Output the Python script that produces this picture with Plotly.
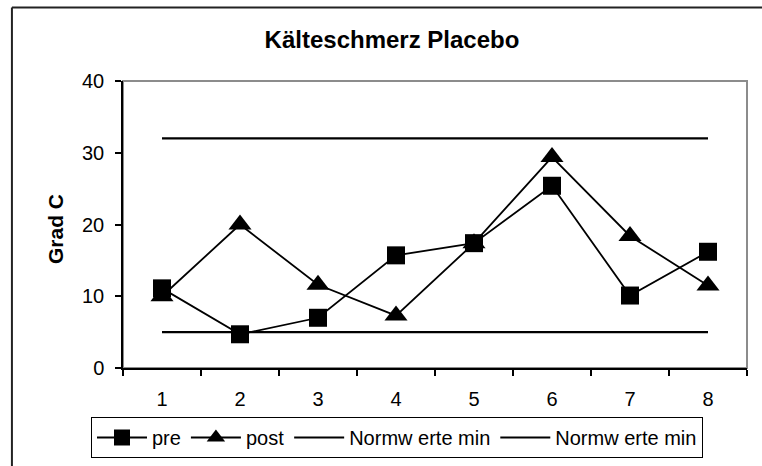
import plotly.graph_objects as go

categories = ["1", "2", "3", "4", "5", "6", "7", "8"]
pre = [11.1, 4.7, 7.0, 15.7, 17.4, 25.4, 10.1, 16.2]
post = [10.0, 20.0, 11.6, 7.3, 17.4, 29.4, 18.4, 11.5]
norm_upper = [32, 32, 32, 32, 32, 32, 32, 32]
norm_lower = [5, 5, 5, 5, 5, 5, 5, 5]
y_ticks = [0, 10, 20, 30, 40]

FONT = "Liberation Sans, Arial, sans-serif"

fig = go.Figure()
fig.add_trace(go.Scatter(x=categories, y=pre, name="pre", mode="lines+markers",
                         line=dict(color="black", width=1.8),
                         marker=dict(symbol="square", size=18, color="black")))
fig.add_trace(go.Scatter(x=categories, y=post, name="post", mode="lines+markers",
                         line=dict(color="black", width=1.8),
                         marker=dict(symbol="triangle-up", size=20, color="black")))
fig.add_trace(go.Scatter(x=categories, y=norm_upper, name="Normw erte min", mode="lines",
                         line=dict(color="black", width=2.2)))
fig.add_trace(go.Scatter(x=categories, y=norm_lower, name="Normw erte min", mode="lines",
                         line=dict(color="black", width=2.2)))

# plot-area border (grey) and outer chart frame
fig.add_shape(type="rect", xref="paper", yref="paper", x0=0, y0=0, x1=1, y1=1,
              line=dict(color="#8c8c8c", width=2), layer="below")
fig.add_shape(type="line", xref="paper", yref="paper", x0=-0.178, y0=1.256, x1=1.1, y1=1.256,
              line=dict(color="#222222", width=2))
fig.add_shape(type="line", xref="paper", yref="paper", x0=-0.178, y0=1.256, x1=-0.178, y1=-0.4,
              line=dict(color="#222222", width=2))

fig.add_annotation(text="<b>Grad C</b>", xref="paper", yref="paper",
                   x=(56 - 123) / 624, y=(368.3 - 229) / 287.6, textangle=-90,
                   showarrow=False, font=dict(family=FONT, size=21, color="black"),
                   xanchor="center", yanchor="middle")

fig.update_layout(
    width=762, height=466,
    margin=dict(l=123, r=15, t=81, b=98, autoexpand=False),
    paper_bgcolor="white", plot_bgcolor="white",
    font=dict(family=FONT, size=20, color="black"),
    title=dict(text="<b>Kälteschmerz Placebo</b>", x=392 / 762, xref="container", xanchor="center",
               y=1 - 40 / 466, yref="container", yanchor="middle",
               font=dict(family=FONT, size=24, color="black")),
    showlegend=True,
    legend=dict(orientation="h", xref="container", x=397 / 762, xanchor="center",
                yref="container", y=1 - 417 / 466, yanchor="top",
                bordercolor="black", borderwidth=1, bgcolor="white",
                font=dict(family=FONT, size=20, color="black"),
                itemwidth=50, tracegroupgap=0),
    xaxis=dict(type="category", categoryorder="array", categoryarray=categories,
               range=[-0.5, 7.5], tickson="boundaries", ticks="outside", ticklen=6,
               tickcolor="black", tickwidth=1.5, showline=True, linecolor="black", linewidth=1.5,
               showgrid=False, zeroline=False, ticklabelstandoff=12,
               tickfont=dict(family=FONT, size=20, color="black")),
    yaxis=dict(range=[0, 40], tickvals=y_ticks, ticks="outside", ticklen=6,
               tickcolor="black", tickwidth=1.5, showline=True, linecolor="black", linewidth=1.5,
               showgrid=False, zeroline=False, ticklabelstandoff=7,
               tickfont=dict(family=FONT, size=20, color="black")),
)

fig.write_html("out.html", config={"displayModeBar": False},
               post_script="document.body.style.margin='0';")
